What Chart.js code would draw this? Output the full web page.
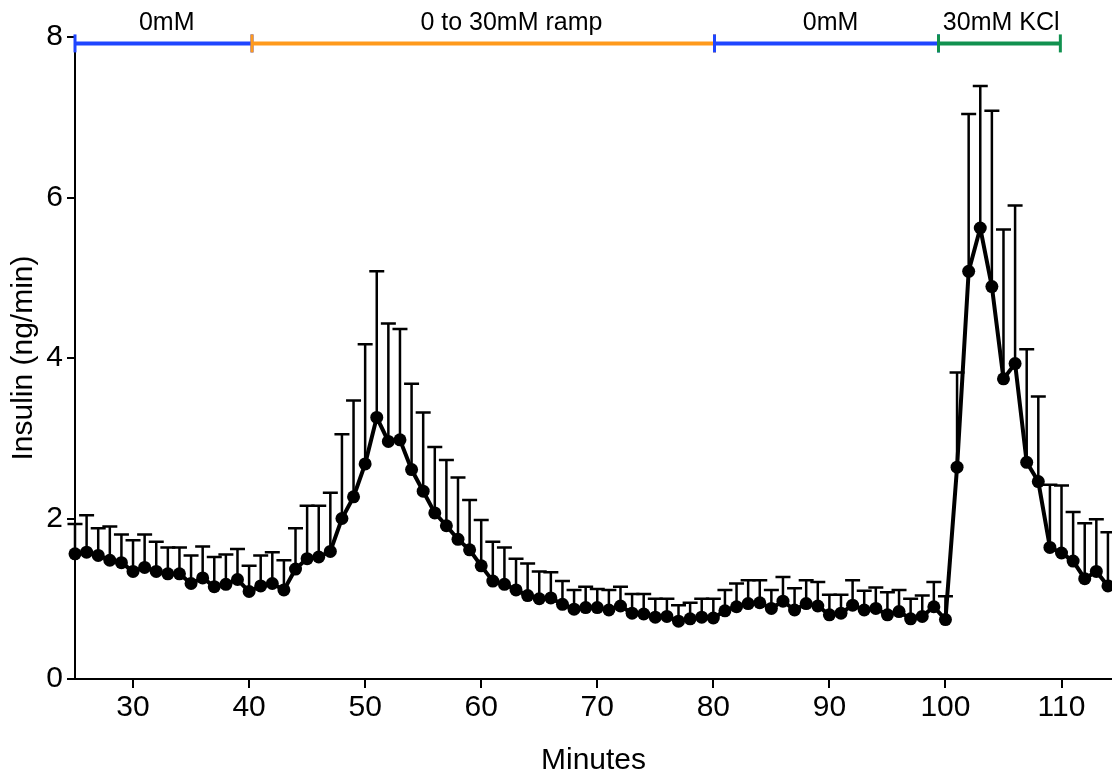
<!DOCTYPE html>
<html>
<head>
<meta charset="utf-8">
<script src="https://cdn.jsdelivr.net/npm/chart.js@4/dist/chart.umd.min.js"></script>
<style>
  html, body { margin: 0; padding: 0; background: #fff; }
  #wrap { width: 1112px; height: 779px; }
</style>
</head>
<body>
<div id="wrap"><canvas id="chart" width="1112" height="779"></canvas></div>
<script>
// time points (minutes)
const MINUTES = [
  25, 26, 27, 28, 29, 30, 31, 32, 33, 34, 35, 36, 37, 38, 39,
  40, 41, 42, 43, 44, 45, 46, 47, 48, 49, 50, 51, 52, 53, 54,
  55, 56, 57, 58, 59, 60, 61, 62, 63, 64, 65, 66, 67, 68, 69,
  70, 71, 72, 73, 74, 75, 76, 77, 78, 79, 80, 81, 82, 83, 84,
  85, 86, 87, 88, 89, 90, 91, 92, 93, 94, 95, 96, 97, 98, 99,
  100, 101, 102, 103, 104, 105, 106, 107, 108, 109, 110, 111, 112, 113, 114
];

// mean insulin secretion (ng/min)
const INSULIN = [
  1.56, 1.58, 1.54, 1.48, 1.45, 1.34, 1.39, 1.34, 1.31, 1.31, 1.19, 1.26, 1.15, 1.18, 1.24,
  1.09, 1.16, 1.19, 1.11, 1.37, 1.50, 1.52, 1.59, 2.00, 2.27, 2.68, 3.26, 2.96, 2.98, 2.61,
  2.34, 2.07, 1.91, 1.74, 1.61, 1.41, 1.22, 1.18, 1.11, 1.04, 1.00, 1.01, 0.93, 0.87, 0.89,
  0.89, 0.86, 0.91, 0.82, 0.81, 0.77, 0.78, 0.72, 0.75, 0.77, 0.76, 0.85, 0.90, 0.94, 0.95,
  0.88, 0.97, 0.86, 0.94, 0.91, 0.80, 0.82, 0.92, 0.86, 0.88, 0.80, 0.84, 0.75, 0.78, 0.90,
  0.74, 2.64, 5.08, 5.62, 4.89, 3.74, 3.93, 2.70, 2.46, 1.64, 1.57, 1.47, 1.25, 1.34, 1.16
];

// upper error (SEM)
const SEM = [
  0.37, 0.46, 0.34, 0.42, 0.35, 0.39, 0.41, 0.37, 0.33, 0.33, 0.35, 0.39, 0.37, 0.37, 0.38,
  0.32, 0.38, 0.39, 0.37, 0.51, 0.66, 0.64, 0.73, 1.05, 1.20, 1.49, 1.82, 1.47, 1.38, 1.07,
  0.98, 0.82, 0.82, 0.77, 0.62, 0.57, 0.49, 0.46, 0.39, 0.40, 0.34, 0.32, 0.29, 0.24, 0.26,
  0.23, 0.25, 0.24, 0.24, 0.25, 0.23, 0.22, 0.20, 0.20, 0.23, 0.24, 0.26, 0.29, 0.29, 0.28,
  0.23, 0.30, 0.27, 0.29, 0.30, 0.25, 0.23, 0.31, 0.24, 0.26, 0.28, 0.27, 0.25, 0.26, 0.31,
  0.29, 1.18, 1.96, 1.77, 2.19, 1.86, 1.97, 1.41, 1.06, 0.78, 0.84, 0.61, 0.69, 0.65, 0.67
];

// perfusion protocol bars along the top
const PHASE_LABELS = ['0mM', '0 to 30mM ramp', '0mM', '30mM KCl'];
const PHASE_START  = [25, 40.25, 80.1, 99.4];
const PHASE_END    = [40.25, 80.1, 99.4, 109.9];
const PHASE_TEXT_X = [32.9, 62.6, 90.1, 104.8];
const PHASE_COLORS = ['#1f45ff', '#ff9a1c', '#1f45ff', '#11914f'];
const PHASE_Y = 7.92;

const Y_TICKS = [0, 2, 4, 6, 8];
const X_TICKS = [30, 40, 50, 60, 70, 80, 90, 100, 110];

const FONT = "'Liberation Sans', Arial, Helvetica, sans-serif";

const points = MINUTES.map((m, i) => ({ x: m, y: INSULIN[i] }));

const phaseSets = PHASE_LABELS.map((lab, i) => ({
  label: lab,
  data: [{ x: PHASE_START[i], y: PHASE_Y }, { x: PHASE_END[i], y: PHASE_Y }],
  borderColor: PHASE_COLORS[i],
  borderWidth: 4,
  pointStyle: 'line',
  pointRotation: 90,
  pointRadius: 9,
  pointBorderWidth: 3,
  pointBorderColor: PHASE_COLORS[i],
  pointBackgroundColor: PHASE_COLORS[i],
  clip: false,
  order: PHASE_LABELS.length - i
}));

// upper-only error bars with caps
const errorBars = {
  id: 'errorBars',
  beforeDatasetsDraw(chart) {
    const { ctx, scales: { x, y } } = chart;
    ctx.save();
    ctx.strokeStyle = '#000';
    ctx.lineWidth = 2.5;
    MINUTES.forEach((m, i) => {
      const px = x.getPixelForValue(m);
      const y0 = y.getPixelForValue(INSULIN[i]);
      const y1 = y.getPixelForValue(INSULIN[i] + SEM[i]);
      ctx.beginPath();
      ctx.moveTo(px, y0);
      ctx.lineTo(px, y1);
      ctx.moveTo(px - 7.5, y1);
      ctx.lineTo(px + 7.5, y1);
      ctx.stroke();
    });
    ctx.restore();
  }
};

// phase text above the bars
const phaseText = {
  id: 'phaseText',
  afterDraw(chart) {
    const { ctx, scales: { x } } = chart;
    ctx.save();
    ctx.fillStyle = '#000';
    ctx.font = '25px ' + FONT;
    ctx.textAlign = 'center';
    ctx.textBaseline = 'middle';
    PHASE_LABELS.forEach((lab, i) => {
      ctx.fillText(lab, x.getPixelForValue(PHASE_TEXT_X[i]), 23);
    });
    ctx.restore();
  }
};

new Chart(document.getElementById('chart'), {
  type: 'line',
  data: {
    datasets: [{
      label: 'Insulin',
      data: points,
      borderColor: '#000',
      backgroundColor: '#000',
      borderWidth: 4,
      pointRadius: 6.5,
      pointBackgroundColor: '#000',
      pointBorderColor: '#000',
      pointBorderWidth: 0,
      tension: 0,
      clip: false,
      order: 0
    }, ...phaseSets]
  },
  options: {
    responsive: false,
    animation: false,
    layout: { autoPadding: false, padding: { top: 37, left: 0, right: 0, bottom: 0 } },
    plugins: { legend: { display: false }, tooltip: { enabled: false } },
    scales: {
      x: {
        type: 'linear',
        min: 25,
        max: 114.35,
        afterBuildTicks: s => { s.ticks = X_TICKS.map(v => ({ value: v })); },
        afterFit: s => { s.height = 100; },
        ticks: { color: '#000', font: { family: FONT, size: 30 }, padding: 2, maxRotation: 0 },
        grid: { drawOnChartArea: false, drawTicks: true, tickLength: 9, color: '#000', lineWidth: 2 },
        border: { display: true, color: '#000', width: 2 },
        title: { display: true, text: 'Minutes', color: '#000', font: { family: FONT, size: 30 }, padding: { top: 0, bottom: 0 } }
      },
      y: {
        min: 0,
        max: 8,
        afterBuildTicks: s => { s.ticks = Y_TICKS.map(v => ({ value: v })); },
        afterFit: s => { s.width = 75; },
        ticks: { color: '#000', font: { family: FONT, size: 30 }, padding: 4 },
        grid: { drawOnChartArea: false, drawTicks: true, tickLength: 8, color: '#000', lineWidth: 2 },
        border: { display: true, color: '#000', width: 2 },
        title: { display: true, text: 'Insulin (ng/min)', color: '#000', font: { family: FONT, size: 30 }, padding: { top: 6, bottom: 0 } }
      }
    }
  },
  plugins: [errorBars, phaseText]
});
</script>
</body>
</html>
